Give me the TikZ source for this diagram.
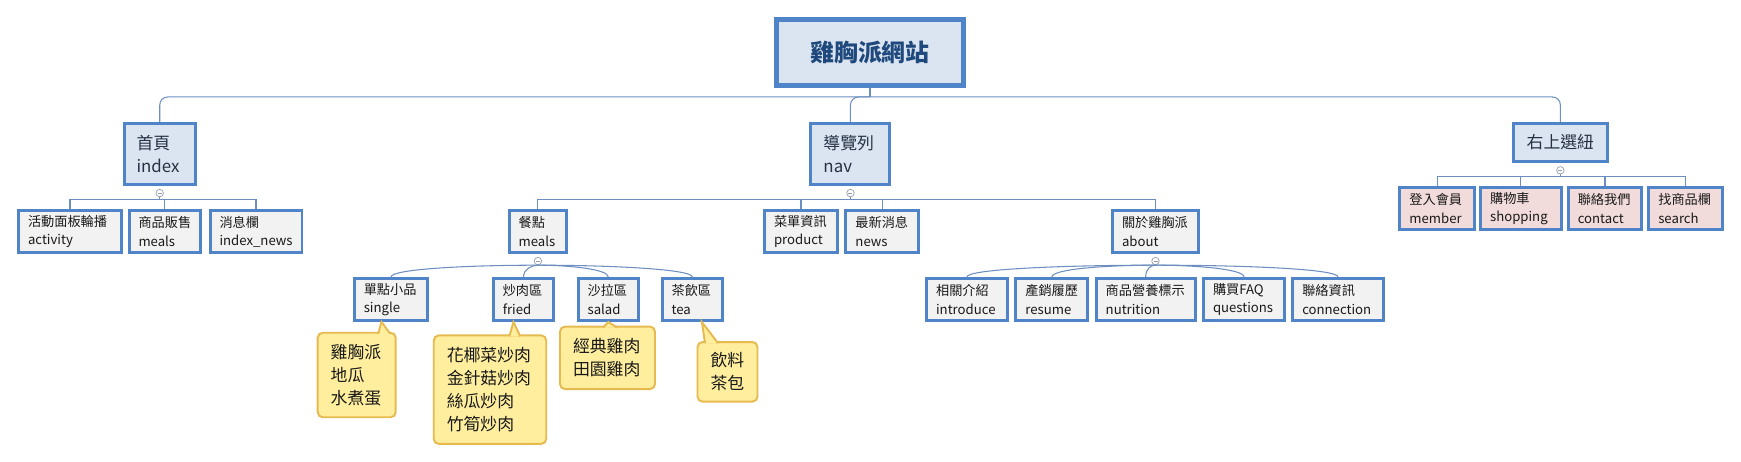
\documentclass[tikz,border=0pt]{standalone}
\usepackage{color}
\usepackage{tikz}
\usepackage{fontspec}
\setmainfont{Noto Sans CJK TC}
\usetikzlibrary{positioning}
\definecolor{boxline}{RGB}{80,132,200}
\definecolor{mainback}{RGB}{219,229,241}
\definecolor{subback}{RGB}{242,242,242}
\definecolor{pinkback}{RGB}{242,220,219}
\definecolor{noteback}{RGB}{254,238,158}
\definecolor{noteline}{RGB}{231,186,80}
\definecolor{linkline}{RGB}{108,142,192}
\definecolor{foldline}{RGB}{150,158,172}
\definecolor{sitetext}{RGB}{31,73,125}
\definecolor{maintext}{RGB}{38,50,68}
\definecolor{subtext}{RGB}{25,25,25}

\begin{document}
\begin{tikzpicture}[x=0.02cm,y=-0.02cm,
  sitebox/.style={draw=boxline,line width=2.8pt,fill=mainback,minimum width=3.74cm,minimum height=1.32cm,font=\fontsize{13.6}{16}\selectfont\bfseries,text=sitetext},
  mainbox/.style={draw=boxline,line width=1.7pt,fill=mainback,inner xsep=0.25cm,inner ysep=0pt,minimum height=1.22cm,align=left,font=\fontsize{9.6}{13}\selectfont,text=maintext,text width=#1},
  subbox/.style={draw=boxline,line width=1.7pt,fill=subback,inner xsep=0.19cm,inner ysep=0pt,minimum height=0.84cm,align=left,font=\fontsize{7.5}{10.4}\selectfont,text=subtext,text width=#1},
  pinkbox/.style={subbox=#1,fill=pinkback},
  notebox/.style={draw=noteline,line width=1.1pt,fill=noteback,rounded corners=0.1cm,inner xsep=0.26cm,inner ysep=0pt,align=left,font=\fontsize{9.6}{13}\selectfont,text=subtext,text width=#1},
  pointer/.style={draw=noteline,line width=1.1pt,fill=noteback,line join=miter},
  fold/.style={circle,draw=foldline,fill=white,line width=0.4pt,inner sep=0pt,minimum size=0.15cm,
    path picture={\draw[foldline,line width=0.4pt] ([xshift=-0.04cm]path picture bounding box.center) -- ([xshift=0.04cm]path picture bounding box.center);}},
  link/.style={draw=linkline,line width=0.6pt}]

\useasboundingbox (0,0) rectangle (1741,462);
\fill [white] (0,0) rectangle (1741,462);

\node [sitebox] (site) at (870,52.5) {雞胸派網站};
\node [mainbox=0.93cm] (home) at (159.75,154) {首頁\\index};
\node [mainbox=1.08cm] (nav) at (850.45,154) {導覽列\\nav};
\node [mainbox=1.39cm,align=center,minimum height=0.77cm] (topbtn) at (1560.35,142.5) {右上選紐};

\node [subbox=1.68cm] (activity) at (70,231.5) {活動面板輪播\\activity};
\node [subbox=1.05cm] (homemeals) at (164.75,231.5) {商品販售\\meals};
\node [subbox=1.46cm] (homenews) at (256,231.5) {消息欄\\index\_news};

\node [subbox=0.77cm] (meals) at (537.9,231.5) {餐點\\meals};
\node [subbox=1.08cm] (product) at (801,231.5) {菜單資訊\\product};
\node [subbox=1.07cm] (news) at (882.2,231.5) {最新消息\\news};
\node [subbox=1.34cm] (about) at (1155.5,231.5) {關於雞胸派\\about};

\node [pinkbox=1.11cm] (member) at (1437.15,208.4) {登入會員\\member};
\node [pinkbox=1.23cm] (shopping) at (1520.85,208.4) {購物車\\shopping};
\node [pinkbox=1.09cm] (contact) at (1605,208.4) {聯絡我們\\contact};
\node [pinkbox=1.10cm] (search) at (1685.8,208.4) {找商品欄\\search};

\node [subbox=1.09cm] (single) at (391,299.5) {單點小品\\single};
\node [subbox=0.83cm] (fried) at (523.5,299.5) {炒肉區\\fried};
\node [subbox=0.83cm] (salad) at (608.35,299.5) {沙拉區\\salad};
\node [subbox=0.83cm] (tea) at (692.35,299.5) {茶飲區\\tea};

\node [subbox=1.23cm] (introduce) at (966.85,299.5) {相關介紹\\introduce};
\node [subbox=1.06cm] (resume) at (1051.85,299.5) {產銷履歷\\resume};
\node [subbox=1.60cm] (nutrition) at (1145.7,299.5) {商品營養標示\\nutrition};
\node [subbox=1.24cm] (questions) at (1244,299.5) {購買FAQ\\questions};
\node [subbox=1.43cm] (connection) at (1338,299.5) {聯絡資訊\\connection};

\node [fold,below=0.06cm of home] (homefold) {};
\node [fold,below=0.06cm of nav] (navfold) {};
\node [fold,below=0.06cm of topbtn] (topbtnfold) {};
\node [fold,below=0.06cm of meals] (mealsfold) {};
\node [fold,below=0.06cm of about] (aboutfold) {};

\coordinate [below=0.18cm of site] (hub);
\draw [link] (site) -- (hub);
\foreach \c in {home,nav,topbtn}
  \draw [link,rounded corners=0.16cm] (hub) -| (\c.north);

\foreach \c in {activity,homemeals,homenews}
  \draw [link] (homefold.south) -- ++(0,2.5) -| (\c.north);
\foreach \c in {meals,product,news,about}
  \draw [link] (navfold.south) -- ++(0,2.5) -| (\c.north);
\foreach \c in {member,shopping,contact,search}
  \draw [link] (topbtnfold.south) -- ++(0,2.4) -| (\c.north);

\foreach \c/\d in {single/-70,fried/-6,salad/30,tea/70}
  \draw [link] (mealsfold.south) .. controls +(\d,0) and +(0,-8) .. (\c.north);
\foreach \c/\d in {introduce/-90,resume/-50,nutrition/-5,questions/40,connection/90}
  \draw [link] (aboutfold.south) .. controls +(\d,0) and +(0,-8) .. (\c.north);

\node [notebox=1.04cm,minimum height=1.69cm] (singlenote) at (356.7,375) {雞胸派\\地瓜\\水煮蛋};
\node [notebox=1.73cm,minimum height=2.17cm] (friednote) at (490,389.65) {花椰菜炒肉\\金針菇炒肉\\絲瓜炒肉\\竹筍炒肉};
\node [notebox=1.38cm,minimum height=1.25cm] (saladnote) at (607.5,357.85) {經典雞肉\\田園雞肉};
\node [notebox=0.68cm,minimum height=1.19cm] (teanote) at (727.5,371.85) {飲料\\茶包};

\filldraw [pointer] ([xshift=1.23cm,yshift=-0.04cm]singlenote.north west) -- ([xshift=-0.19cm]single.south) -- ([xshift=1.47cm,yshift=-0.04cm]singlenote.north west);
\filldraw [pointer] ([xshift=1.53cm,yshift=-0.04cm]friednote.north west) -- ([xshift=-0.2cm]fried.south) -- ([xshift=1.75cm,yshift=-0.04cm]friednote.north west);
\filldraw [pointer] ([xshift=0.88cm,yshift=-0.04cm]saladnote.north west) -- (salad.south) -- ([xshift=1.16cm,yshift=-0.04cm]saladnote.north west);
\filldraw [pointer] ([xshift=0.17cm,yshift=-0.04cm]teanote.north west) -- ([xshift=0.19cm]tea.south) -- ([xshift=0.43cm,yshift=-0.04cm]teanote.north west);
\end{tikzpicture}
\end{document}
